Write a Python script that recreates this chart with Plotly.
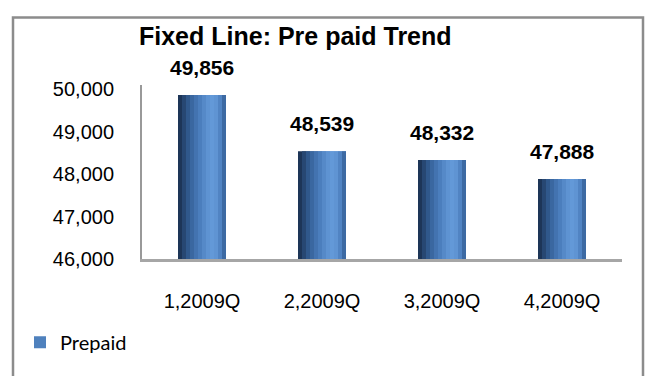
import plotly.graph_objects as go

categories = ["1,2009Q", "2,2009Q", "3,2009Q", "4,2009Q"]
prepaid = [49856, 48539, 48332, 47888]
y_ticks = [46000, 47000, 48000, 49000, 50000]
series_name = "Prepaid"
title_text = "Fixed Line: Pre paid Trend"

# cylinder-like shading: colours of vertical strips across each bar (left -> right)
strip_colors = ["#1d3557", "#274772", "#30588b", "#3a67a0", "#4373b0", "#4b7ebd",
                "#5589c8", "#5e93d2", "#6399d8", "#5f94d3", "#5184c3", "#3d6aa3"]
bar_width = 0.4
n = len(strip_colors)
sw = bar_width / n

fig = go.Figure()
for i, c in enumerate(strip_colors):
    w = sw if i == n - 1 else sw * 2
    fig.add_trace(go.Bar(
        x=categories, y=prepaid,
        width=[w] * len(categories),
        offset=[-bar_width / 2 + i * sw] * len(categories),
        marker=dict(color=c, line=dict(width=0)),
        name=series_name, legendgroup="p",
        showlegend=False, hoverinfo="skip",
    ))
# legend entry (same data, same colour as bar body)
fig.add_trace(go.Bar(
    x=categories, y=prepaid, width=[0] * len(categories),
    marker=dict(color="#4f81bd", line=dict(width=0)),
    name=series_name, legendgroup="p", showlegend=True, hoverinfo="skip",
))

for c, v in zip(categories, prepaid):
    fig.add_annotation(x=c, y=v, text=f"<b>{v:,}</b>", showarrow=False,
                       yanchor="bottom", yshift=14,
                       font=dict(family="Liberation Sans, Arial", size=21, color="#000"))

fig.add_annotation(x=295 / 648, y=1 - 30 / 376, xref="paper", yref="paper",
                   text=f"<b>{title_text}</b>", showarrow=False,
                   xanchor="center", yanchor="middle",
                   font=dict(family="Liberation Sans, Arial", size=25, color="#000"))

# outer chart border
fig.add_shape(type="rect", xref="paper", yref="paper",
              x0=13 / 648, x1=643 / 648, y0=-0.05, y1=1 - 11 / 376,
              line=dict(color="#8c8c8c", width=2.5), fillcolor="rgba(0,0,0,0)")

fig.update_layout(
    width=648, height=376,
    margin=dict(l=0, r=0, t=0, b=0),
    paper_bgcolor="white", plot_bgcolor="white",
    barmode="overlay",
    showlegend=True,
    legend=dict(x=20 / 648, y=1 - 352 / 376, xanchor="left", yanchor="middle",
                orientation="h", bgcolor="rgba(0,0,0,0)",
                font=dict(family="Lato, Calibri, sans-serif", size=20, color="#000")),
    xaxis=dict(domain=[142 / 648, 622 / 648], range=[-0.5, 3.5],
               showline=True, linecolor="#a6a6a6", linewidth=3,
               showgrid=False, zeroline=False, ticks="",
               tickfont=dict(family="Liberation Sans, Arial", size=20, color="#000"),
               ticklabelstandoff=22),
    yaxis=dict(domain=[(376 - 265) / 376, (376 - 82) / 376], range=[46000, 50090],
               tickvals=y_ticks, tickformat=",d",
               showline=True, linecolor="#999999", linewidth=2,
               showgrid=False, zeroline=False, ticks="",
               tickfont=dict(family="Liberation Sans, Arial", size=20, color="#000"),
               ticklabelstandoff=22),
)

fig.write_html("out.html")
